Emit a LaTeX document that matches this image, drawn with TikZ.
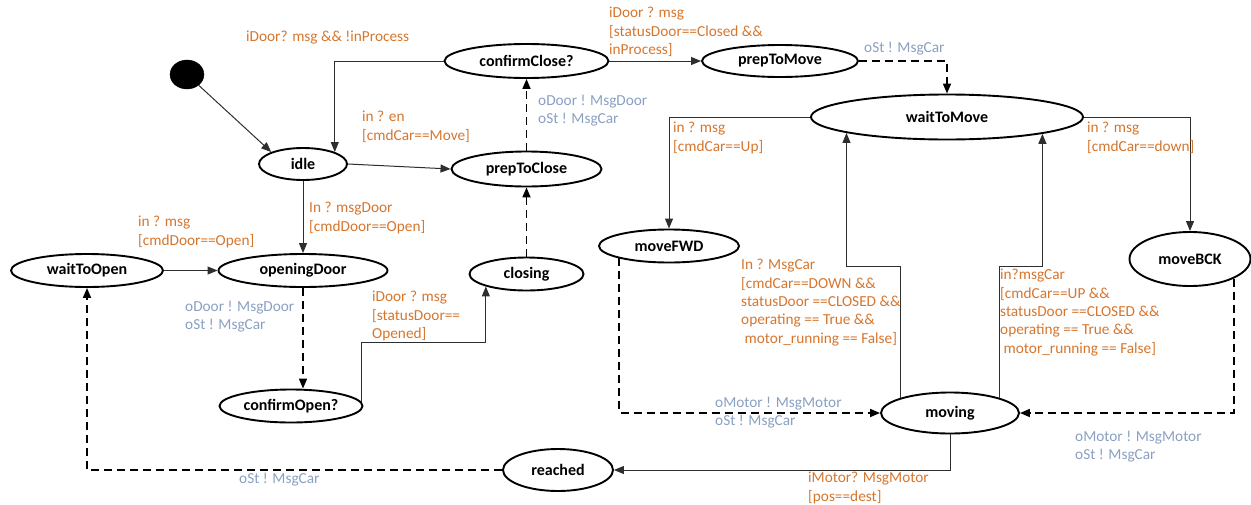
\documentclass[tikz,border=0pt]{standalone}
\usepackage{fontspec}
\setmainfont{Carlito}
\usetikzlibrary{shapes.geometric,arrows.meta}
\definecolor{guardc}{HTML}{D5762E}
\definecolor{actc}{HTML}{8AA0C2}
\definecolor{wirec}{HTML}{2E2E2E}
\begin{document}
\begin{tikzpicture}[x=1pt,y=-1pt,
  state/.style 2 args={ellipse,draw,line width=1.9pt,inner sep=0pt,
    minimum width=#1pt,minimum height=#2pt,
    font=\bfseries\fontsize{16}{19}\selectfont},
  tip/.style={-{Triangle[length=10pt,width=8pt]}},
  trans/.style={tip,draw=wirec,line width=1pt},
  act/.style={tip,draw=black,line width=1.7pt,dash pattern=on 8pt off 5pt},
  guard/.style={anchor=north west,inner sep=0pt,align=left,text=guardc,
    font=\fontsize{15.3}{18.4}\selectfont},
  emit/.style={guard,text=actc}]
\useasboundingbox (0,0) rectangle (1251,504);

% states
\node[circle,fill=black,draw=black,minimum width=29pt,inner sep=0pt,
  xscale=1.17] (init) at (187,74.5) {};
\node[state={164}{34}] (cc)  at (526.5,61)  {confirmClose?};
\node[state={88}{32}]  (idle) at (303,164)  {idle};
\node[state={150}{35}] (ptc) at (526.5,169) {prepToClose};
\node[state={156}{32}] (ptm) at (780,61)    {prepToMove};
\node[state={272}{45}] (wtm) at (947,117)   {waitToMove};
\node[state={140}{33}] (mfwd) at (669,246)  {moveFWD};
\node[state={121}{54}] (mbck) at (1190,259) {moveBCK};
\node[state={138}{41}] (mv)  at (950,413)   {moving};
\node[state={110}{42}] (re)  at (558,470)   {reached};
\node[state={152}{33}] (wto) at (87,270.5)  {waitToOpen};
\node[state={169}{33}] (od)  at (303,270.5) {openingDoor};
\node[state={114}{33}] (cl)  at (526.5,274) {closing};
\node[state={143}{33}] (co)  at (291,406)   {confirmOpen?};

% levels of the horizontal runs
\coordinate (ystep) at (0,266);
\coordinate (yopen) at (0,342);

% door side
\draw[trans] (init) -- (idle.north west);
\draw[trans] (cc.west) -| (idle.north east);
\draw[trans] (idle.east) -- (ptc.west);
\draw[act]   (ptc) -- (cc);
\draw[trans] (cc.east) -- (ptm.west);
\draw[trans] (idle.south) -- (od.north);
\draw[trans] (wto.east) -- (od.west);
\draw[act]   (od.south) -- (od.south |- co.north);
\draw[trans] (co.3.3) |- (cl.197.6 |- yopen) -- (cl.197.6);
\draw[act]   (cl) -- (ptc);

% car side
\draw[act]   (ptm.east) -| (wtm.north);
\draw[trans] (wtm.west) -| (mfwd.north);
\draw[trans] (wtm.east) -| (mbck.north);
\draw[trans] (mv.163.6) |- (wtm.189.4 |- ystep) -- (wtm.189.4);
\draw[trans] (mv.17.7) |- (wtm.350.6 |- ystep) -- (wtm.350.6);
\draw[act]   (mfwd.194) |- (mv.west);
\draw[act]   (mbck.336.2) |- (mv.east);
\draw[trans] (mv.south) |- (re.east);
\draw[act]   (re.west) -| (wto.south);

% guards and actions
\node[guard] (g1) at (246,31) {iDoor? msg \&\& !inProcess};
\node[guard] (g2) at (362,111) {in ? en\\{}[cmdCar==Move]};
\node[emit]  (a1) at (538,95) {oDoor ! MsgDoor\\oSt ! MsgCar};
\node[guard] (g3) at (609,7) {iDoor ? msg\\{}[statusDoor==Closed \&\&\\inProcess]};
\node[emit]  (a2) at (864,42) {oSt ! MsgCar};
\node[guard] (g4) at (673,122) {in ? msg\\{}[cmdCar==Up]};
\node[guard] (g5) at (1087,122) {in ? msg\\{}[cmdCar==down]};
\node[guard] (g6) at (741,259) {In ? MsgCar\\{}[cmdCar==DOWN \&\&\\statusDoor ==CLOSED \&\&\\operating == True \&\&\\\ motor\_running == False]};
\node[guard] (g7) at (1000,269) {in?msgCar\\{}[cmdCar==UP \&\&\\statusDoor ==CLOSED \&\&\\operating == True \&\&\\\ motor\_running == False]};
\node[emit]  (a3) at (715,397) {oMotor ! MsgMotor\\oSt ! MsgCar};
\node[emit]  (a4) at (1075,431) {oMotor ! MsgMotor\\oSt ! MsgCar};
\node[guard] (g8) at (808,472) {iMotor? MsgMotor\\{}[pos==dest]};
\node[emit]  (a5) at (239,473) {oSt ! MsgCar};
\node[guard] (g9) at (138,216) {in ? msg\\{}[cmdDoor==Open]};
\node[guard] (g10) at (309,202) {In ? msgDoor\\{}[cmdDoor==Open]};
\node[emit]  (a6) at (185,301) {oDoor ! MsgDoor\\oSt ! MsgCar};
\node[guard] (g11) at (372,291) {iDoor ? msg\\{}[statusDoor==\\Opened]};
\end{tikzpicture}
\end{document}
